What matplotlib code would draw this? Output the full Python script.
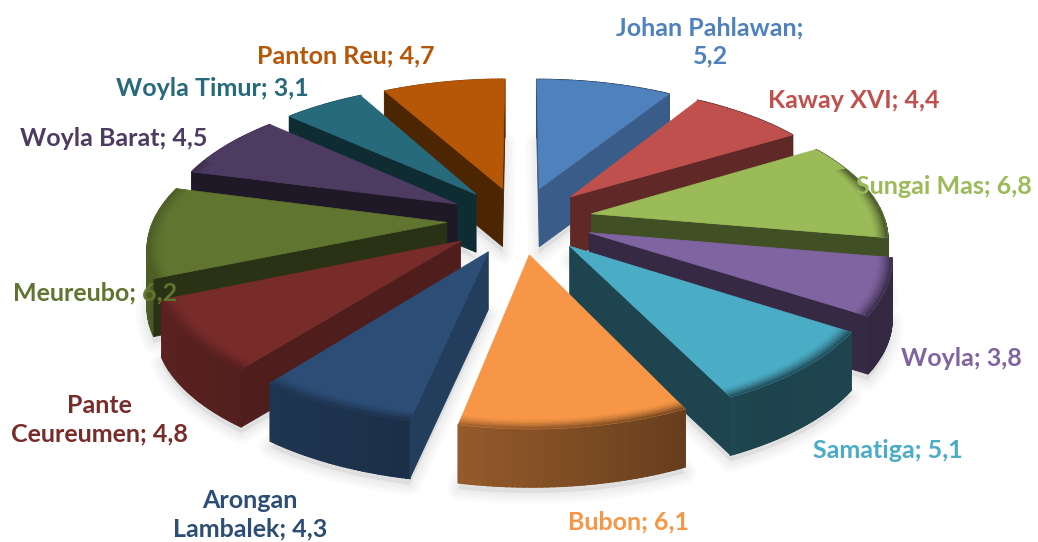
#!/usr/bin/env python3
# -*- coding: utf-8 -*-
"""Exploded 3D pie, drawn by hand since matplotlib has no 3D pie."""

import numpy as np
import matplotlib
matplotlib.use('Agg')
import matplotlib.pyplot as plt
from matplotlib.colors import to_rgb

# data, clockwise from 12 o'clock
categories = ['Johan Pahlawan', 'Kaway XVI', 'Sungai Mas', 'Woyla', 'Samatiga', 'Bubon',
              'Arongan Lambalek', 'Pante Ceureumen', 'Meureubo', 'Woyla Barat',
              'Woyla Timur', 'Panton Reu']
values = [5.2, 4.4, 6.8, 3.8, 5.1, 6.1, 4.3, 4.8, 6.2, 4.5, 3.1, 4.7]
colors = ['#4F81BD', '#C0504D', '#9BBB59', '#8064A2', '#4BACC6', '#F79646',
          '#2C4D75', '#772C2A', '#5F7530', '#4D3B62', '#276A7C', '#B65708']
label_text = ['Johan Pahlawan;\n5,2', 'Kaway XVI; 4,4', 'Sungai Mas; 6,8', 'Woyla; 3,8',
              'Samatiga; 5,1', 'Bubon; 6,1', 'Arongan\nLambalek; 4,3', 'Pante\nCeureumen; 4,8',
              'Meureubo; 6,2', 'Woyla Barat; 4,5', 'Woyla Timur; 3,1', 'Panton Reu; 4,7']
label_x = [710, 854, 944, 961, 888, 628, 250, 99, 95, 114, 212, 346]
label_y = [42, 101, 187, 358, 451, 522, 515, 420, 293, 138, 88, 56]

# projection settings (pixels)
CX, CY = 520, 220
SX, SY = 293, 135
PERSP = 0.155
DEPTH = 58
EXPLODE = 0.25


def project(x, y, drop=0.0):
    w = 1 + PERSP * y
    return CX + SX * x / w, CY - SY * y / w + drop


def shade(col, f):
    return tuple(c * f for c in to_rgb(col))


def mix(c1, c2, t):
    return tuple(a * (1 - t) + b * t for a, b in zip(c1, c2))


def wall_light(deg):
    # outer wall gets lighter going round to the left
    return np.interp(deg, [0, 150, 195, 225, 270, 360], [0.45, 0.39, 0.62, 0.72, 0.8, 0.8])


def cut_light(deg):
    # straight cut walls
    return np.interp(deg, [32, 58, 100, 155, 191, 218, 247, 285, 331],
                     [0.72, 0.5, 0.42, 0.4, 0.8, 0.66, 0.43, 0.4, 0.42])


def cut_visible(px, py, mx, my):
    # the wall hangs below the edge, so it only shows when the slice lies above the edge
    dx, dy = px[1] - px[0], py[1] - py[0]
    if abs(dx) < 1e-6:
        return False
    return py[0] + dy * (mx - px[0]) / dx > my


fig = plt.figure(figsize=(10.38, 5.42), dpi=100)
ax = fig.add_axes([0, 0, 1, 1])
ax.set_xlim(0, 1038)
ax.set_ylim(542, 0)
ax.axis('off')

total = sum(values)
edges = np.cumsum([0] + values) / total * 360

slices = []
for i in range(len(values)):
    a0, a1 = edges[i], edges[i + 1]
    mid = np.radians((a0 + a1) / 2)
    ox, oy = EXPLODE * np.sin(mid), EXPLODE * np.cos(mid)
    ang = np.radians(np.linspace(a0, a1, 40))
    slices.append((i, a0, a1, ox, oy, ang))

# soft shadow first, below everything
for i, a0, a1, ox, oy, ang in slices:
    xs = np.r_[ox, ox + np.sin(ang)]
    ys = np.r_[oy, oy + np.cos(ang)]
    px, py = project(xs, ys, DEPTH + 6)
    for lw in [16, 11, 7, 3]:
        ax.fill(px, py, fc='#b0b0b0', ec='#b0b0b0', lw=lw, alpha=0.06, joinstyle='round', zorder=1)

# back slices first
order = sorted(slices, key=lambda s: -np.cos(np.radians((s[1] + s[2]) / 2)))
z = 2
for i, a0, a1, ox, oy, ang in order:
    col = colors[i]

    # outer wall: a plain silhouette for the edges, then flat quads for the gradient
    px, py = project(ox + np.sin(ang), oy + np.cos(ang))
    cm = shade(col, wall_light((a0 + a1) / 2))
    ax.fill(np.r_[px, px[::-1]], np.r_[py, py[::-1] + DEPTH], fc=cm, ec=cm, lw=0.6, zorder=z)
    z += 1
    for j in range(len(ang) - 1):
        xa = ox + np.sin(ang[j:j + 2])
        ya = oy + np.cos(ang[j:j + 2])
        px, py = project(xa, ya)
        c = shade(col, wall_light(np.degrees(ang[j:j + 2].mean())))
        ax.fill(np.r_[px, px[::-1]], np.r_[py, py[::-1] + DEPTH], fc=c, ec=c, lw=1.2, zorder=z)
    z += 1

    # the cut walls that face us
    am = np.radians((a0 + a1) / 2)
    mx, my = project(ox + np.sin(am), oy + np.cos(am))
    for a in (a0, a1):
        r = np.radians(a)
        px, py = project(np.array([ox, ox + np.sin(r)]), np.array([oy, oy + np.cos(r)]))
        if not cut_visible(px, py, mx, my):
            continue
        c = shade(col, cut_light(a))
        ax.fill(np.r_[px, px[::-1]], np.r_[py, py[::-1] + DEPTH], fc=c, ec=c, lw=0.6, zorder=z)
        z += 1

    # top face
    px, py = project(np.r_[ox, ox + np.sin(ang)], np.r_[oy, oy + np.cos(ang)])
    ax.fill(px, py, fc=col, ec=col, lw=0.5, zorder=z)
    z += 1

    # bevel along the rim, strongest at the front
    radii = np.linspace(0.955, 1.0, 6)
    for j in range(len(ang) - 1):
        amid = ang[j:j + 2].mean()
        if np.cos(amid) > 0.35:
            continue
        wall = shade(col, wall_light(np.degrees(amid)))
        for k in range(len(radii) - 1):
            t = (k + 1) / (len(radii) - 1)
            r0, r1 = radii[k], radii[k + 1]
            sa, ca = np.sin(ang[j:j + 2]), np.cos(ang[j:j + 2])
            p0x, p0y = project(ox + r0 * sa, oy + r0 * ca)
            p1x, p1y = project(ox + r1 * sa, oy + r1 * ca)
            c = mix(to_rgb(col), wall, t ** 1.5 * 0.85)
            ax.fill(np.r_[p0x, p1x[::-1]], np.r_[p0y, p1y[::-1]], fc=c, ec=c, lw=0.3, zorder=z)
    z += 1

for text, x, y, col in zip(label_text, label_x, label_y, colors):
    ax.text(x, y, text, ha='center', va='center', color=col, fontsize=18, fontweight='bold',
            family=['Lato', 'DejaVu Sans'], linespacing=1.3, zorder=z + 1)

fig.savefig('out.png', dpi=100, facecolor='white')
